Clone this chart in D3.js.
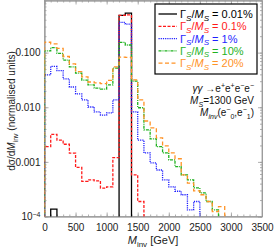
<!DOCTYPE html>
<html><head><meta charset="utf-8">
<script src="https://cdn.jsdelivr.net/npm/d3@7"></script>
<style>body{margin:0;background:#fff}svg{display:block;font-family:"Liberation Sans",Arial,sans-serif}</style>
</head><body><svg id="c" width="274" height="247"></svg>
<script>
// bin lower edges (GeV), width 100
const binEdges = [0,100,200,300,400,500,600,700,800,900,1000,1100,1200,1300,1400,1500,1600,1700,1800,1900,2000,2100,2200,2300,2400,2500,2600,2700,2800,2900,3000,3100,3200,3300,3400,3500];
const widthLabels = ["0.01%","0.1%","1%","10%","20%"];
const w001 = [0,0.000137,0,0,0,0,0,0,0,0,0,0,0.48,0.53,0,0,0,0,0,0,0,0,0,0,0,0,0,0,0,0,0,0,0,0,0];
const w01  = [0.0019,0.0032,0.0025,0.0021,0.00144,0.00079,0.00044,0.00047,0.00045,0.00033,0.00035,0.0012,0.48,0.49,0.00058,0.000188,0,0,0,0,0,0,0,0,0,0,0,0,0,0,0,0,0,0,0];
const w1   = [0.039,0.056,0.047,0.033,0.0235,0.0175,0.0136,0.0101,0.0082,0.0072,0.0079,0.0136,0.358,0.333,0.0082,0.0025,0.00146,0.00096,0.00071,0.00047,0.00035,0.00029,0.00025,0.000132,0.000188,0,0,0,0,0,0,0,0,0,0];
const w10  = [0.108,0.123,0.097,0.073,0.055,0.042,0.0315,0.0256,0.0224,0.0214,0.0256,0.052,0.154,0.138,0.030,0.0098,0.00385,0.00263,0.0019,0.00146,0.00109,0.00082,0.00058,0.00047,0.000335,0.00027,0.000188,0.000132,0,0,0,0,0,0,0];
const w20  = [0.155,0.145,0.12,0.085,0.062,0.045,0.036,0.029,0.028,0.027,0.031,0.055,0.083,0.082,0.0316,0.0136,0.0056,0.0042,0.00275,0.00196,0.00146,0.00114,0.00058,0.00041,0.000295,0.00025,0.000188,0.000123,0.000152,0,0,0,0,0,0];
const xTicks = [0,500,1000,1500,2000,2500,3000,3500];
const yTicks = [0.1,0.01,0.001,0.0001];
const yTickLabels = ["0.100","0.010","0.001","10^-4"];

const series = [
  {v:w001, color:"#000000", dash:null},
  {v:w01,  color:"#ff1a1a", dash:"3,1.5"},
  {v:w1,   color:"#1f1fff", dash:"1.2,1"},
  {v:w10,  color:"#1fb21f", dash:"3,1,1,1"},
  {v:w20,  color:"#ff9326", dash:"4,2.5"}
];

const svg = d3.select("#c");
const L=44.5, R=262, T=0.5, B=216.5;
const x = d3.scaleLinear().domain([0,3500]).range([L,R]);
const y = d3.scaleLog().domain([1e-4,0.9]).range([B,T]);

svg.append("defs").append("clipPath").attr("id","clip").append("rect")
  .attr("x",L).attr("y",T).attr("width",R-L).attr("height",B-T);

const axisCol="#9a9a9a";
// minor ticks
const xMinor = d3.range(0,3501,100);
const yMinor = [];
[1e-4,1e-3,1e-2,1e-1].forEach(d=>{for(let k=1;k<10;k++){const v=d*k; if(v<=0.9) yMinor.push(v);}});

function styleAxis(g){g.selectAll("path,line").attr("stroke",axisCol).attr("stroke-width",0.8);g.selectAll("text").attr("fill","#222").attr("font-size",10);}

svg.append("g").attr("transform",`translate(0,${B})`).call(d3.axisBottom(x).tickValues(xMinor).tickSize(-2).tickSizeOuter(0).tickFormat("")).call(styleAxis);
svg.append("g").attr("transform",`translate(0,${T})`).call(d3.axisTop(x).tickValues(xMinor).tickSize(-2).tickSizeOuter(0).tickFormat("")).call(styleAxis);
svg.append("g").attr("transform",`translate(${L},0)`).call(d3.axisLeft(y).tickValues(yMinor).tickSize(-2).tickSizeOuter(0).tickFormat("")).call(styleAxis);
svg.append("g").attr("transform",`translate(${R},0)`).call(d3.axisRight(y).tickValues(yMinor).tickSize(-2).tickSizeOuter(0).tickFormat("")).call(styleAxis);

svg.append("g").attr("transform",`translate(0,${B})`).call(d3.axisBottom(x).tickValues(xTicks).tickSize(-4).tickSizeOuter(0).tickPadding(7).tickFormat(d3.format("d"))).call(styleAxis);
svg.append("g").attr("transform",`translate(0,${T})`).call(d3.axisTop(x).tickValues(xTicks).tickSize(-4).tickSizeOuter(0).tickFormat("")).call(styleAxis);
const gy = svg.append("g").attr("transform",`translate(${L},0)`).call(d3.axisLeft(y).tickValues(yTicks).tickSize(-4).tickSizeOuter(0).tickPadding(4).tickFormat((d,i)=>yTickLabels[i])).call(styleAxis);
svg.append("g").attr("transform",`translate(${R},0)`).call(d3.axisRight(y).tickValues(yTicks).tickSize(-4).tickSizeOuter(0).tickFormat("")).call(styleAxis);

gy.selectAll("text").each(function(d,i){
  const s = yTickLabels[i];
  if(s.indexOf("^")>=0){
    const [b,e]=s.split("^");
    const t=d3.select(this).text(null);
    t.append("tspan").text(b);
    t.append("tspan").attr("dy","-0.45em").attr("font-size",7).text(e.replace("-","\u2212"));
  }
});

svg.append("rect").attr("x",L).attr("y",T).attr("width",R-L).attr("height",B-T)
  .attr("fill","none").attr("stroke",axisCol).attr("stroke-width",0.8);

// histograms
const gp = svg.append("g").attr("clip-path","url(#clip)");
function yv(v){return v>0? y(v) : B+10;}
series.forEach(s=>{
  let p = d3.path();
  p.moveTo(x(binEdges[0]), B+10);
  s.v.forEach((v,i)=>{
    p.lineTo(x(binEdges[i]), yv(v));
    p.lineTo(x(binEdges[i+1]), yv(v));
  });
  p.lineTo(x(binEdges[s.v.length]), B+10);
  gp.append("path").attr("d",p.toString()).attr("fill","none")
    .attr("stroke",s.color).attr("stroke-width",1.3)
    .attr("stroke-dasharray",s.dash);
});

// legend
const lg = svg.append("g");
lg.append("rect").attr("x",155).attr("y",4).attr("width",102).attr("height",70)
  .attr("fill","#fff").attr("stroke","#000").attr("stroke-width",1.2);
series.forEach((s,i)=>{
  const cy = 14 + i*12.3;
  lg.append("line").attr("x1",158.5).attr("x2",177).attr("y1",cy).attr("y2",cy)
    .attr("stroke",s.color).attr("stroke-width",1.3).attr("stroke-dasharray",s.dash);
  const t = lg.append("text").attr("x",180).attr("y",cy+4).attr("fill",s.color).attr("font-size",11);
  t.append("tspan").text("\u0393");
  t.append("tspan").attr("font-style","italic").attr("font-size",8).attr("dy",2.5).text("S");
  t.append("tspan").attr("dy",-2.5).text("/");
  t.append("tspan").attr("font-style","italic").text("M");
  t.append("tspan").attr("font-style","italic").attr("font-size",8).attr("dy",2.5).text("S");
  t.append("tspan").attr("dy",-2.5).text(" = "+widthLabels[i]);
});

// annotations
const an = svg.append("g").attr("font-size",10).attr("fill","#111").attr("text-anchor","end");
const a1 = an.append("text").attr("x",254).attr("y",92);
a1.append("tspan").attr("font-style","italic").text("\u03b3\u03b3");
a1.append("tspan").text(" \u2192e");
a1.append("tspan").attr("dy",-4).attr("font-size",7).text("+");
a1.append("tspan").attr("dy",4).text("e");
a1.append("tspan").attr("dy",-4).attr("font-size",7).text("+");
a1.append("tspan").attr("dy",4).text("e");
a1.append("tspan").attr("dy",-4).attr("font-size",7).text("\u2212");
a1.append("tspan").attr("dy",4).text("e");
a1.append("tspan").attr("dy",-4).attr("font-size",7).text("\u2212");
const a2 = an.append("text").attr("x",254).attr("y",104);
a2.append("tspan").attr("font-style","italic").text("M");
a2.append("tspan").attr("font-style","italic").attr("font-size",7).attr("dy",2.5).text("S");
a2.append("tspan").attr("dy",-2.5).text("=1300 GeV");
const a3 = an.append("text").attr("x",254).attr("y",116);
a3.append("tspan").attr("font-style","italic").text("M");
a3.append("tspan").attr("font-style","italic").attr("font-size",7).attr("dy",2.5).text("inv");
a3.append("tspan").attr("dy",-2.5).text("(e");
a3.append("tspan").attr("dy",-4).attr("font-size",7).text("\u2212");
a3.append("tspan").attr("dy",6.5).attr("font-size",7).text("0");
a3.append("tspan").attr("dy",-2.5).text(",e");
a3.append("tspan").attr("dy",-4).attr("font-size",7).text("\u2212");
a3.append("tspan").attr("dy",6.5).attr("font-size",7).text("1");
a3.append("tspan").attr("dy",-2.5).text(")");

// axis titles
const xt = svg.append("text").attr("x",153).attr("y",244).attr("text-anchor","middle").attr("font-size",11).attr("fill","#222");
xt.append("tspan").attr("font-style","italic").text("M");
xt.append("tspan").attr("font-size",8).attr("dy",2.5).text("inv");
xt.append("tspan").attr("dy",-2.5).text(" [GeV]");
const yt = svg.append("text").attr("transform","translate(15,111) rotate(-90)").attr("text-anchor","middle").attr("font-size",10).attr("fill","#222");
yt.append("tspan").text("d\u03c3/d");
yt.append("tspan").attr("font-style","italic").text("M");
yt.append("tspan").attr("font-size",7).attr("dy",2.5).text("inv");
yt.append("tspan").attr("dy",-2.5).text(" (normalised units)");
</script></body></html>
